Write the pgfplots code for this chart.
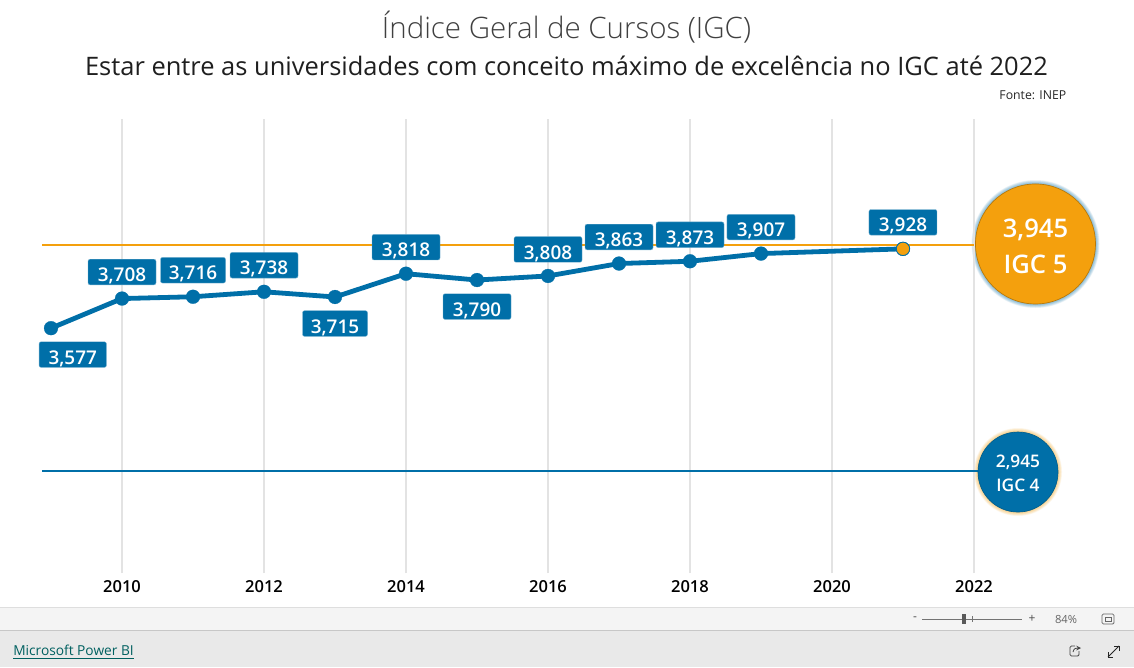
\documentclass[border=0pt]{standalone}
\usepackage{pgfplots}
\pgfplotsset{compat=1.18}
\usepackage{pgfplotstable}
\usepackage{fontspec}
\setmainfont{Open Sans}
\newfontfamily\semib{Open Sans Semibold}
\newfontfamily\lightf{Open Sans Light}
\definecolor{bl}{HTML}{006FA8}
\definecolor{og}{HTML}{F4A00D}
\definecolor{gr}{HTML}{E3E3E3}
\pgfplotstableread{
x y label dx dy w
2009 3.577 3,577 16.3 -19.8 50.5
2010 3.708 3,708 0 19.9 51
2011 3.716 3,716 0 19.9 48.75
2012 3.738 3,738 0 19.9 51
2013 3.715 3,715 0 -19.9 48.75
2014 3.818 3,818 0 19.9 51
2015 3.790 3,790 0 -19.9 51
2016 3.808 3,808 0 19.9 51
2017 3.863 3,863 0 19.9 51
2018 3.873 3,873 0 19.9 51
2019 3.907 3,907 0 19.9 51
2021 3.928 3,928 0 19.9 51
}\igc
\begin{document}
\begin{tikzpicture}[x=0.75pt,y=-0.75pt]
\path[use as bounding box] (0,0) rectangle (1134,667);
\fill[white] (0,0) rectangle (1134,667);
% footer bars
\fill[black!4.5] (0,607) rectangle (1134,630);
\fill[black!8.5] (0,630) rectangle (1134,667);
\draw[black!13,line width=0.75pt] (0,607) -- (1134,607);
\draw[black!22,line width=0.75pt] (0,630) -- (1134,630);
% titles
\node[text=black!75] at (566.5,27) {\lightf\fontsize{22.1}{26}\selectfont Índice Geral de Cursos (IGC)};
\node[text=black!88] at (566.5,66) {\fontsize{19.1}{23}\selectfont Estar entre as universidades com conceito máximo de excelência no IGC até 2022};
\node[anchor=east,text=black!85] at (1071,95) {\fontsize{9.2}{10}\selectfont Fonte: INEP};
% glows
\foreach \i in {1,...,8}{
  \fill[bl,opacity=0.07] (1035.5,244) circle ({60+\i*0.5});
  \fill[og,opacity=0.07] (1018,472) circle ({40+\i*0.5});
}
\begin{axis}[
  anchor=south west, at={(31.5pt,-429.75pt)},
  scale only axis, width=793.5pt, height=340.5pt,
  xmin=2008.873, xmax=2023.775, ymin=2.4937, ymax=4.5025,
  clip=false, axis line style={draw=none},
  xtick={2010,2012,...,2022}, ytick=\empty,
  xticklabel style={/pgf/number format/1000 sep={},/pgf/number format/assume math mode=true},
  xticklabel={\semib\fontsize{12.4}{14}\selectfont\pgfmathprintnumber[1000 sep={},assume math mode=true]{\tick}},
  tick style={draw=none}, xticklabel shift=2pt, tick align=inside,
  xmajorgrids, major grid style={gr,line width=1.5pt},
  axis on top=false,
]
\addplot[og,line width=1.9pt,forget plot] coordinates {(2008.873,3.945) (2022.0,3.945)};
\addplot[bl,line width=1.9pt,forget plot] coordinates {(2008.873,2.945) (2022.05,2.945)};
\addplot[og,only marks,mark=*,mark size=45pt,mark options={fill=og,draw=og!75!black,line width=0.5pt},forget plot] coordinates {(2022.866,3.9495)};
\addplot[bl,only marks,mark=*,mark size=30pt,mark options={fill=bl,draw=bl!85!black,line width=0.5pt},forget plot] coordinates {(2022.620,2.9405)};
\addplot[bl,line width=3.6pt,line join=round,mark=*,mark size=5.2pt,mark options={fill=bl,draw=bl,line width=0.2pt},
  point meta=explicit symbolic,
  visualization depends on={\thisrow{dx}\as\dxx},
  visualization depends on={\thisrow{dy}\as\dyy},
  visualization depends on={\thisrow{w}\as\ww},
  nodes near coords,
  every node near coord/.append style={anchor=center,xshift=\dxx pt,yshift=\dyy pt,
    fill=bl,draw=bl!55!white,line width=0.3pt,rounded corners=1.5pt,text=white,inner sep=0pt,
    text height=14.4pt,text depth=0pt,
    minimum width=\ww pt,minimum height=19.2pt,font=\semib\fontsize{14.2}{16}\selectfont}
] table[x=x,y=y,meta=label] {\igc};
\addplot[only marks,mark=*,mark size=5pt,mark options={fill=og,draw=bl,line width=0.6pt},forget plot] coordinates {(2021,3.928)};
\end{axis}
% bubble labels
\node[text=white,align=center] at (1035.5,230) {\semib\fontsize{19.2}{22}\selectfont 3,945};
\node[text=white,align=center] at (1035.5,264) {\semib\fontsize{19.2}{22}\selectfont IGC 5};
\node[text=white] at (1018,462) {\semib\fontsize{13}{15}\selectfont 2,945};
\node[text=white] at (1018,485) {\semib\fontsize{13}{15}\selectfont IGC 4};
% footer widgets
\node[text=black!70,inner sep=0pt] at (915,619) {\fontsize{9}{10}\selectfont -};
\draw[black!55,line width=0.6pt] (922,619) -- (1022,619);
\draw[black!55,line width=0.5pt] (972,616) -- (972,622);
\fill[black!65] (962,614) rectangle (966,624);
\node[text=black!70,inner sep=0pt] at (1032,619) {\fontsize{9}{10}\selectfont +};
\node[text=black!60,inner sep=0pt] at (1066,619) {\fontsize{8.4}{10}\selectfont 84\%};
\draw[black!60,line width=0.6pt,rounded corners=1pt] (1102,614) rectangle (1114,624);
\draw[black!60,line width=0.6pt] (1105,617) rectangle (1111,621);
\node[anchor=west,text=teal!75!black,inner sep=0pt] at (13,652) {\fontsize{10.3}{12}\selectfont\underline{Microsoft Power BI}};
\draw[black!75,line width=0.6pt,rounded corners=1pt] (1075,646) -- (1070,646) -- (1070,656) -- (1079,656) -- (1079,651);
\draw[black!75,line width=0.6pt,->,>=stealth] (1073,652) .. controls (1074,648) and (1076,648) .. (1081,648);
\draw[black!85,line width=0.6pt] (1108,657) -- (1119,646);
\draw[black!85,line width=0.6pt] (1114,646) -- (1119,646) -- (1119,651);
\draw[black!85,line width=0.6pt] (1108,652) -- (1108,657) -- (1113,657);
\end{tikzpicture}
\end{document}
